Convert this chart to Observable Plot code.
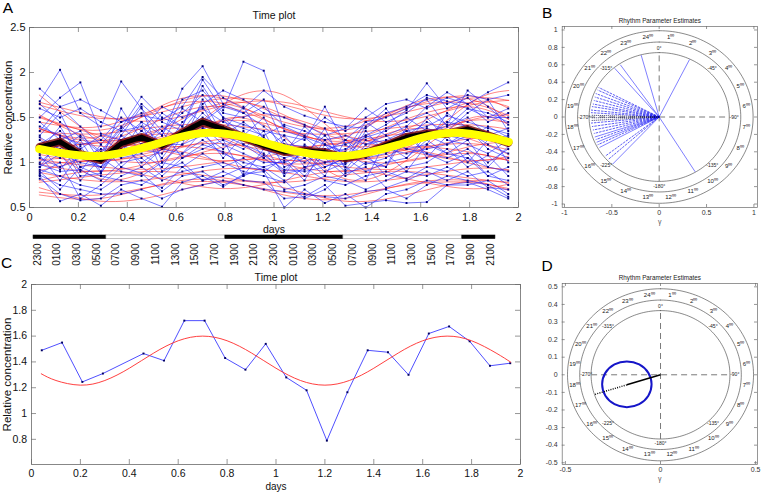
<!DOCTYPE html>
<html><head><meta charset="utf-8">
<script src="https://cdn.jsdelivr.net/npm/d3@7"></script>
<script src="https://cdn.jsdelivr.net/npm/@observablehq/plot@0.6"></script>
<style>
body{margin:0;background:#fff;}
#wrap{position:relative;width:761px;height:494px;overflow:hidden;background:#fff;}
.panel{position:absolute;}
.panel svg{overflow:visible;max-width:none;}
</style></head><body><div id="wrap"></div>
<script>
// ---------- DATA ----------
const days = [0.042,0.125,0.208,0.292,0.375,0.458,0.542,0.625,0.708,0.792,0.875,0.958,1.042,1.125,1.208,1.292,1.375,1.458,1.542,1.625,1.708,1.792,1.875,1.958];
const seriesA = [
 [1.82,1.62,1.70,1.58,1.45,1.52,1.48,1.62,1.95,1.72,1.60,1.80,1.62,1.52,1.45,1.40,1.38,1.55,1.62,1.75,1.68,1.60,1.55,1.45],
 [1.68,2.03,1.55,1.40,1.90,1.60,1.35,1.55,1.75,1.50,1.42,1.35,1.30,1.25,1.62,1.20,1.30,1.42,1.58,1.88,1.60,1.72,1.50,1.60],
 [1.50,1.72,1.89,1.32,1.25,1.45,1.30,1.82,2.07,1.65,1.55,1.40,1.20,1.18,1.12,1.25,1.45,1.30,1.40,1.62,1.78,1.65,1.78,1.89],
 [1.65,1.45,1.28,1.10,1.38,1.73,1.50,1.40,1.92,1.58,2.12,2.02,1.35,1.28,1.20,1.10,1.15,1.38,1.45,1.55,1.42,1.80,1.62,1.42],
 [1.40,1.30,1.20,1.25,1.50,1.35,1.62,1.50,1.60,1.45,1.38,1.30,1.42,1.35,1.25,1.30,1.20,1.25,1.35,1.40,1.52,1.45,1.38,1.32],
 [1.30,1.55,1.10,1.05,1.35,1.40,1.22,1.60,1.45,1.62,1.55,1.70,1.20,1.10,1.30,1.05,1.40,1.60,1.30,1.45,1.35,1.55,1.70,1.35],
 [1.25,1.10,1.00,0.95,1.20,1.30,1.05,1.35,1.50,1.40,1.25,1.15,1.05,1.12,1.00,0.98,1.15,1.20,1.35,1.28,1.45,1.40,1.25,1.20],
 [1.20,1.35,1.15,1.30,1.10,1.20,1.40,1.25,1.38,1.30,1.45,1.28,1.10,1.00,1.15,1.20,1.05,1.10,1.25,1.38,1.30,1.25,1.40,1.28],
 [1.15,1.05,1.25,0.90,1.30,1.15,1.10,1.45,1.62,1.25,1.15,1.35,0.95,1.05,1.38,0.92,1.20,1.30,1.15,1.20,1.55,1.38,1.15,1.05],
 [1.10,1.28,0.95,1.00,1.15,1.35,1.20,1.20,1.30,1.48,1.20,1.05,1.25,0.95,1.00,1.10,0.98,1.05,1.20,1.50,1.25,1.20,1.10,1.25],
 [1.05,0.95,1.05,1.15,1.05,1.10,0.95,1.30,1.40,1.20,1.10,1.00,1.00,1.10,0.90,1.00,1.25,1.15,1.10,1.15,1.20,1.30,1.35,1.00],
 [1.00,1.20,0.85,0.88,1.25,0.95,1.15,1.10,1.35,1.05,1.30,1.20,0.85,1.20,1.05,0.85,1.00,0.95,1.30,1.10,1.05,1.15,1.00,1.15],
 [0.98,0.90,0.92,0.80,1.00,1.05,0.85,1.05,1.20,1.12,0.95,1.08,0.92,0.90,0.95,1.05,0.90,1.00,1.05,1.25,1.10,1.05,0.95,0.90],
 [0.95,1.10,0.80,1.05,0.90,0.85,1.00,0.95,1.10,0.95,1.05,0.90,1.05,0.85,1.10,0.90,1.10,0.85,0.95,1.00,1.15,0.95,1.08,0.85],
 [0.92,0.85,0.75,0.70,0.85,0.95,0.80,0.90,0.95,1.00,0.90,0.85,0.78,0.95,0.80,0.75,0.85,0.90,0.82,0.95,0.90,1.05,0.85,0.80],
 [0.90,0.70,0.95,0.85,0.80,0.75,0.90,1.00,0.80,0.85,0.95,0.92,0.70,0.75,0.85,0.80,0.70,0.80,0.90,0.85,0.95,0.85,0.90,0.75],
 [0.88,1.00,0.60,0.75,0.95,0.88,0.68,0.85,0.90,0.75,0.85,0.95,0.80,0.60,0.70,0.88,0.95,0.72,0.80,0.90,0.80,0.90,0.72,0.70],
 [0.85,0.57,0.65,0.52,0.70,0.60,0.51,0.78,0.85,0.73,0.87,0.90,0.50,0.70,0.55,0.65,0.50,0.65,0.70,0.80,0.75,0.78,0.70,0.60],
 [0.82,0.65,0.58,0.60,0.75,0.80,0.72,0.95,0.80,0.90,0.80,0.78,0.60,0.62,0.75,0.52,0.55,0.58,0.55,0.56,0.75,0.75,0.80,0.65],
 [1.35,1.62,1.40,1.20,1.45,1.55,1.30,1.70,1.80,1.55,1.50,1.62,1.40,1.30,1.50,1.35,1.50,1.65,1.70,1.60,1.72,1.65,1.45,1.55],
 [1.28,1.15,1.30,1.12,1.40,1.20,1.25,1.30,1.55,1.35,1.62,1.25,1.15,1.28,1.10,1.15,1.28,1.35,1.50,1.35,1.40,1.50,1.30,1.38],
 [1.12,1.40,1.05,0.95,1.30,1.62,1.00,1.20,1.70,1.30,1.20,1.10,0.90,1.15,0.95,1.05,1.30,1.20,1.05,1.30,1.20,1.35,1.20,1.10],
 [1.45,1.25,1.35,1.00,1.60,1.25,1.55,1.40,1.85,1.50,1.30,1.50,1.10,1.40,1.20,1.12,1.45,1.50,1.60,1.70,1.40,1.60,1.50,1.50],
 [1.08,0.80,1.10,0.95,1.10,1.45,0.90,1.10,1.25,1.10,1.00,0.95,1.02,0.80,1.20,0.95,0.80,1.25,1.15,1.10,1.00,1.10,0.85,0.95],
 [1.60,1.50,1.60,1.45,1.35,1.65,1.45,1.35,1.65,1.80,1.70,1.55,1.50,1.42,1.30,1.38,1.60,1.45,1.55,1.72,1.65,1.75,1.70,1.75],
 [0.95,1.25,0.90,1.20,0.95,1.15,1.35,1.05,1.15,1.25,0.85,1.15,1.30,1.05,0.85,1.25,1.05,0.95,1.40,1.05,1.30,1.00,1.25,1.30],
 [1.18,0.92,1.18,0.88,1.20,1.00,1.15,1.25,1.30,1.15,1.35,1.05,0.88,0.92,1.25,1.00,1.35,1.10,0.90,1.20,1.10,1.25,0.95,1.18],
 [0.86,0.75,0.70,0.65,0.65,0.70,0.60,0.70,0.75,0.80,0.75,0.70,0.68,0.65,0.62,0.60,0.68,0.70,0.60,0.75,0.85,0.80,0.75,0.62]
];
const fitDays = [0.04,0.29,0.54,0.79,1.04,1.29,1.54,1.79,1.96];
const fitsA = [
 [1.64,1.49,1.56,1.71,1.64,1.49,1.56,1.71,1.69],
 [1.50,1.36,1.60,1.74,1.50,1.36,1.60,1.74,1.60],
 [1.37,1.29,1.63,1.71,1.37,1.29,1.63,1.71,1.48],
 [1.53,1.25,1.37,1.66,1.53,1.25,1.37,1.66,1.62],
 [1.34,1.32,1.40,1.42,1.34,1.32,1.40,1.42,1.37],
 [1.51,1.30,1.25,1.46,1.51,1.30,1.25,1.46,1.53],
 [1.17,1.07,1.25,1.36,1.17,1.07,1.25,1.36,1.25],
 [1.18,1.22,1.32,1.28,1.18,1.22,1.32,1.28,1.20],
 [1.13,1.08,1.29,1.34,1.13,1.08,1.29,1.34,1.20],
 [1.19,1.04,1.11,1.26,1.19,1.04,1.11,1.26,1.24],
 [1.09,1.01,1.14,1.21,1.09,1.01,1.14,1.21,1.14],
 [0.99,1.04,1.17,1.12,0.99,1.04,1.17,1.12,1.02],
 [0.98,0.90,1.02,1.10,0.98,0.90,1.02,1.10,1.02],
 [1.03,0.95,0.93,1.01,1.03,0.95,0.93,1.01,1.04],
 [0.89,0.79,0.83,0.93,0.89,0.79,0.83,0.93,0.92],
 [0.78,0.86,0.90,0.83,0.78,0.86,0.90,0.83,0.78],
 [0.80,0.91,0.82,0.71,0.80,0.91,0.82,0.71,0.76],
 [0.72,0.57,0.64,0.79,0.72,0.57,0.64,0.79,0.77],
 [0.64,0.60,0.76,0.80,0.64,0.60,0.76,0.80,0.69],
 [1.45,1.40,1.61,1.66,1.45,1.40,1.61,1.66,1.52],
 [1.38,1.18,1.27,1.46,1.38,1.18,1.27,1.46,1.44],
 [1.03,1.13,1.37,1.27,1.03,1.13,1.37,1.27,1.09],
 [1.38,1.24,1.48,1.62,1.38,1.24,1.48,1.62,1.48],
 [0.91,1.06,1.15,1.00,0.91,1.06,1.15,1.00,0.91],
 [1.67,1.51,1.47,1.63,1.67,1.51,1.47,1.63,1.69],
 [1.11,1.22,1.13,1.02,1.11,1.22,1.13,1.02,1.07],
 [1.21,1.05,1.01,1.17,1.21,1.05,1.01,1.17,1.23],
 [0.67,0.64,0.75,0.78,0.67,0.64,0.75,0.78,0.71],
 [1.28,0.82,1.02,1.48,1.28,0.82,1.02,1.48,1.42],
 [1.75,1.26,1.16,1.64,1.75,1.26,1.16,1.64,1.80]
];
const meanA = [1.17,1.23,1.09,1.03,1.21,1.28,1.19,1.33,1.45,1.37,1.28,1.19,1.12,1.13,1.11,1.05,1.10,1.19,1.28,1.32,1.32,1.37,1.30,1.22];
const popFitDays = [0.04,0.1,0.2,0.3,0.4,0.5,0.6,0.7,0.8,0.9,1.0,1.1,1.2,1.3,1.4,1.5,1.6,1.7,1.8,1.9,1.96];
const popFitA = [1.15,1.12,1.08,1.075,1.12,1.19,1.27,1.325,1.32,1.27,1.19,1.12,1.08,1.075,1.12,1.19,1.27,1.325,1.32,1.27,1.23];
const xTicks = [0,0.2,0.4,0.6,0.8,1,1.2,1.4,1.6,1.8,2];
const yTicksA = [0.5,1,1.5,2,2.5];
const yTicksC = [0.8,1,1.2,1.4,1.6,1.8,2];

const cDays = [0.042,0.125,0.208,0.292,0.458,0.542,0.625,0.708,0.792,0.875,0.958,1.042,1.125,1.208,1.292,1.375,1.458,1.542,1.625,1.708,1.792,1.875,1.958];
const cValues = [1.49,1.55,1.245,1.31,1.465,1.41,1.72,1.72,1.43,1.34,1.54,1.28,1.18,0.79,1.165,1.49,1.475,1.30,1.62,1.675,1.56,1.37,1.39];
const cFitDays = [0.04,0.1,0.2,0.3,0.4,0.5,0.6,0.7,0.8,0.9,1.0,1.1,1.2,1.3,1.4,1.5,1.6,1.7,1.8,1.9,1.96];
const cFitValues = [1.308,1.256,1.22,1.256,1.351,1.469,1.564,1.60,1.564,1.469,1.351,1.256,1.22,1.256,1.351,1.469,1.564,1.60,1.564,1.469,1.398];

const clockLabels = ["2300","0100","0300","0500","0700","0900","1100","1300","1500","1700","1900","2100","2300","0100","0300","0500","0700","0900","1100","1300","1500","1700","1900","2100"];
const lightStart = [-0.2,3.5,9.54,15.53,21.57];
const lightEnd = [3.5,9.54,15.53,21.57,23.25];
const lightDark = [true,false,true,false,true];

const ringScale = [1,1.164,1.34];
const hourLabels = ["1⁰⁰","2⁰⁰","3⁰⁰","4⁰⁰","5⁰⁰","6⁰⁰","7⁰⁰","8⁰⁰","9⁰⁰","10⁰⁰","11⁰⁰","12⁰⁰","13⁰⁰","14⁰⁰","15⁰⁰","16⁰⁰","17⁰⁰","18⁰⁰","19⁰⁰","20⁰⁰","21⁰⁰","22⁰⁰","23⁰⁰","24⁰⁰"];
const degreeLabels = ["0°","-45°","-90°","-135°","-180°","-225°","-270°","-315°"];

const bEndX = [-0.19,0.32,-0.47,-0.41,0.38,-0.57,-0.54,-0.49,-0.64,-0.65,-0.67,-0.68,-0.69,-0.70,-0.71,-0.72,-0.72,-0.72,-0.72,-0.72,-0.72,-0.71,-0.70,-0.69,-0.68,-0.67,-0.66,-0.65,-0.63];
const bEndY = [0.71,0.66,0.56,0.60,-0.63,-0.45,-0.49,-0.54,0.34,0.31,0.27,0.23,0.19,0.15,0.12,0.08,0.05,0.02,-0.01,-0.04,-0.07,-0.11,-0.15,-0.19,-0.23,-0.26,-0.29,-0.32,-0.35];
const bStyle = ["solid","solid","solid","solid","solid","dash","dash","solid","dash","dash","dash","dash","dash","dash","dash","dash","dash","dot","dot","dot","dash","dash","dash","dash","solid","dash","solid","dash","solid"];
const xTicksB = [-1,-0.5,0,0.5,1];
const yTicksB = [1,0.8,0.6,0.4,0.2,0,-0.2,-0.4,-0.6,-0.8,-1];

const dEllipseX = [-0.047,-0.064,-0.112,-0.177,-0.242,-0.290,-0.307,-0.290,-0.242,-0.177,-0.112,-0.064];
const dEllipseY = [-0.054,0.011,0.059,0.076,0.059,0.011,-0.054,-0.119,-0.167,-0.184,-0.167,-0.119];
const dVectorX = [0,-0.177,-0.35];
const dVectorY = [0,-0.057,-0.113];
const xTicksD = [-0.5,0,0.5];
const yTicksD = [0.5,0.4,0.3,0.2,0.1,0,-0.1,-0.2,-0.3,-0.4,-0.5];

// ---------- HELPERS ----------
const FONT = '"Liberation Sans", Arial, Helvetica, sans-serif';
const FRAME = "#6a6a6a";
const fmt = d => String(+d.toFixed(2));
const wrap = document.getElementById("wrap");
function place(svg, left, top, w) {
  const div = document.createElement("div");
  div.className = "panel";
  div.style.left = left + "px"; div.style.top = top + "px"; div.style.width = w + "px";
  div.appendChild(svg); wrap.appendChild(div);
}
function inward(xt, yt, fw, fh, len, color) {
  const o = {stroke: color, strokeWidth: 0.7};
  return [
    Plot.ruleX(xt, {x: d => d, insetTop: fh - len, ...o}),
    Plot.ruleX(xt, {x: d => d, insetBottom: fh - len, ...o}),
    Plot.ruleY(yt, {y: d => d, insetRight: fw - len, ...o}),
    Plot.ruleY(yt, {y: d => d, insetLeft: fw - len, ...o})
  ];
}
// centred text helper (explicit anchors)
function label(str, opts) {
  return Plot.text([str], {text: d => d, textAnchor: "middle", lineAnchor: "middle", fill: "#111", ...opts});
}

// ---------- PANEL A ----------
const blueA = seriesA.flatMap((row, i) => row.map((v, j) => ({id: i, x: days[j], y: v})));
const redA = fitsA.flatMap((row, i) => row.map((v, j) => ({id: i, x: fitDays[j], y: v})));
const meanData = meanA.map((v, j) => ({x: days[j], y: v}));
const popData = popFitA.map((v, j) => ({x: popFitDays[j], y: v}));
{
  const W = 530, H = 240, ml = 29, mr = 12, mt = 27, mb = 33;
  const svg = Plot.plot({
    width: W, height: H, marginLeft: ml, marginRight: mr, marginTop: mt, marginBottom: mb,
    x: {domain: [0, 2], axis: null}, y: {domain: [0.5, 2.5], axis: null},
    style: {background: "transparent", fontFamily: FONT, overflow: "visible"},
    marks: [
      Plot.line(redA, {x: "x", y: "y", z: "id", stroke: "#ff2020", strokeWidth: 0.55, curve: "natural"}),
      Plot.line(blueA, {x: "x", y: "y", z: "id", stroke: "#2525ff", strokeWidth: 0.6}),
      Plot.dot(blueA, {x: "x", y: "y", symbol: "square", r: 1.1, fill: "#000080", stroke: null}),
      Plot.line(meanData, {x: "x", y: "y", stroke: "#7a0000", strokeWidth: 8.5, strokeOpacity: 0.8, strokeLinejoin: "round"}),
      Plot.line(meanData, {x: "x", y: "y", stroke: "#000", strokeWidth: 5, strokeLinejoin: "round"}),
      Plot.line(popData, {x: "x", y: "y", stroke: "#ffff00", strokeWidth: 8, curve: "natural"}),
      Plot.frame({stroke: FRAME, strokeWidth: 0.8}),
      ...inward(xTicks, yTicksA, W - ml - mr, H - mt - mb, 5, FRAME),
      Plot.text(xTicks, {x: d => d, frameAnchor: "bottom", dy: 10, text: fmt, textAnchor: "middle", lineAnchor: "middle", fontSize: 11, fill: "#111"}),
      Plot.text(yTicksA, {y: d => d, frameAnchor: "left", dx: -4, textAnchor: "end", lineAnchor: "middle", text: fmt, fontSize: 11, fill: "#111"}),
      label("days", {frameAnchor: "bottom", dy: 22, fontSize: 10.5}),
      label("Time plot", {frameAnchor: "top", dy: -12, fontSize: 10.5}),
      label("Relative concentration", {frameAnchor: "left", dx: -21, rotate: -90, fontSize: 11.5}),
      label("A", {frameAnchor: "top-left", dx: -21.5, dy: -19, fontSize: 15.5, fill: "#000"})
    ]
  });
  place(svg, 0, 0, W);
}

// ---------- CLOCK STRIP ----------
{
  const bars = lightStart.map((s, i) => ({s, e: lightEnd[i], c: lightDark[i] ? "#000" : "#fff", k: lightDark[i] ? "#000" : "#999"}));
  const labs = clockLabels.map((l, i) => ({i, l}));
  const svg = Plot.plot({
    width: 530, height: 50, marginLeft: 37, marginRight: 40, marginTop: 7, marginBottom: 39.5,
    x: {domain: [0, 23], axis: null}, color: {type: "identity"},
    style: {background: "transparent", fontFamily: FONT, overflow: "visible"},
    marks: [
      Plot.rect(bars, {x1: "s", x2: "e", fill: "c", stroke: "k", strokeWidth: 0.6}),
      Plot.text(labs, {x: "i", text: "l", frameAnchor: "bottom", dy: 4.5, rotate: -90, textAnchor: "end", lineAnchor: "middle", fontSize: 10, fill: "#111"})
    ]
  });
  place(svg, 0, 228, 530);
}

// ---------- PANEL C ----------
{
  const W = 530, H = 244, ml = 31, mr = 10, mt = 34, mb = 30;
  const cData = cValues.map((v, j) => ({x: cDays[j], y: v}));
  const cFit = cFitValues.map((v, j) => ({x: cFitDays[j], y: v}));
  const svg = Plot.plot({
    width: W, height: H, marginLeft: ml, marginRight: mr, marginTop: mt, marginBottom: mb,
    x: {domain: [0, 2], axis: null}, y: {domain: [0.605, 2], axis: null},
    style: {background: "transparent", fontFamily: FONT, overflow: "visible"},
    marks: [
      Plot.line(cData, {x: "x", y: "y", stroke: "#3b3bff", strokeWidth: 0.9}),
      Plot.dot(cData, {x: "x", y: "y", symbol: "square", r: 1.1, fill: "#000060", stroke: null}),
      Plot.line(cFit, {x: "x", y: "y", stroke: "#ff2a2a", strokeWidth: 0.9, curve: "natural"}),
      Plot.frame({stroke: FRAME, strokeWidth: 0.8}),
      ...inward(xTicks, yTicksC, W - ml - mr, H - mt - mb, 5, FRAME),
      Plot.text(xTicks, {x: d => d, frameAnchor: "bottom", dy: 9.5, text: fmt, textAnchor: "middle", lineAnchor: "middle", fontSize: 10.5, fill: "#111"}),
      Plot.text(yTicksC, {y: d => d, frameAnchor: "left", dx: -4.5, textAnchor: "end", lineAnchor: "middle", text: fmt, fontSize: 10.5, fill: "#111"}),
      label("days", {frameAnchor: "bottom", dy: 22.7, fontSize: 10}),
      label("Time plot", {frameAnchor: "top", dy: -6.5, fontSize: 10.5}),
      label("Relative concentration", {frameAnchor: "left", dx: -24, rotate: -90, fontSize: 11.5}),
      label("C", {frameAnchor: "top-left", dx: -25, dy: -21, fontSize: 15.5, fill: "#000"})
    ]
  });
  place(svg, 0, 250, W);
}

// ---------- POLAR PANELS ----------
function polar({top, xDomain, yDomain, xt, yt, rInner, letter, letterDy, extra}) {
  const W = 231, H = 230, ml = 31.7, mr = 4, mt = 26, mb = 23;
  const rad = Math.PI / 180;
  const circles = ringScale.flatMap((k, i) => d3.range(0, 362, 2).map(a => ({ring: i, x: rInner * k * Math.sin(a * rad), y: rInner * k * Math.cos(a * rad)})));
  const hours = hourLabels.map((t, i) => { const a = (i + 0.5) * 15 * rad, R = rInner * 1.25; return {t, x: R * Math.sin(a), y: R * Math.cos(a)}; });
  const degs = degreeLabels.map((t, i) => { const a = i * 45 * rad, R = rInner * 1.07; return {t, x: R * Math.sin(a), y: R * Math.cos(a)}; });
  const axes = [{x1: 0, y1: -rInner, x2: 0, y2: rInner}, {x1: -rInner, y1: 0, x2: rInner, y2: 0}];
  const svg = Plot.plot({
    width: W, height: H, marginLeft: ml, marginRight: mr, marginTop: mt, marginBottom: mb,
    x: {domain: xDomain, axis: null}, y: {domain: yDomain, axis: null},
    style: {background: "transparent", fontFamily: FONT, overflow: "visible"},
    marks: [
      Plot.line(circles, {x: "x", y: "y", z: "ring", stroke: "#3a3a3a", strokeWidth: 0.6}),
      Plot.link(axes, {x1: "x1", y1: "y1", x2: "x2", y2: "y2", stroke: "#7a7a7a", strokeWidth: 1, strokeDasharray: "6,4"}),
      Plot.text(hours, {x: "x", y: "y", text: "t", fontSize: 6, fill: "#222"}),
      Plot.text(degs, {x: "x", y: "y", text: "t", fontSize: 5, fill: "#222"}),
      ...extra,
      Plot.frame({stroke: FRAME, strokeWidth: 0.7}),
      ...inward(xt, yt, W - ml - mr, H - mt - mb, 3, FRAME),
      Plot.text(xt, {x: d => d, frameAnchor: "bottom", dy: 5.5, text: fmt, textAnchor: "middle", lineAnchor: "middle", fontSize: 7, fill: "#333"}),
      Plot.text(yt, {y: d => d, frameAnchor: "left", dx: -4.5, textAnchor: "end", lineAnchor: "middle", text: fmt, fontSize: 7, fill: "#333"}),
      label("γ", {frameAnchor: "bottom", dy: 14, fontSize: 7, fill: "#555"}),
      label("Rhythm Parameter Estimates", {frameAnchor: "top", dy: -6, fontSize: 6.3, fill: "#222"}),
      label(letter, {frameAnchor: "top-left", dx: -15, dy: letterDy, fontSize: 15.5, fill: "#000"})
    ]
  });
  place(svg, 530, top, W);
}

const bLines = bEndX.map((x, i) => ({x1: 0, y1: 0, x2: x, y2: bEndY[i], s: bStyle[i]}));
polar({
  top: 0, xDomain: [-1.024, 1.038], yDomain: [-1.04, 1.04], xt: xTicksB, yt: yTicksB, rInner: 0.74, letter: "B", letterDy: -13.5,
  extra: [
    Plot.link(bLines.filter(d => d.s === "solid"), {x1: "x1", y1: "y1", x2: "x2", y2: "y2", stroke: "#2a2aff", strokeWidth: 0.6}),
    Plot.link(bLines.filter(d => d.s === "dash"), {x1: "x1", y1: "y1", x2: "x2", y2: "y2", stroke: "#1a1aee", strokeWidth: 0.7, strokeDasharray: "2.5,1"}),
    Plot.link(bLines.filter(d => d.s === "dot"), {x1: "x1", y1: "y1", x2: "x2", y2: "y2", stroke: "#000040", strokeWidth: 0.8, strokeDasharray: "1,1"})
  ]
});

const dEllipse = dEllipseX.map((x, i) => ({x, y: dEllipseY[i]}));
const dSolid = [{x1: dVectorX[0], y1: dVectorY[0], x2: dVectorX[1], y2: dVectorY[1]}];
const dDotted = [{x1: dVectorX[1], y1: dVectorY[1], x2: dVectorX[2], y2: dVectorY[2]}];
polar({
  top: 257, xDomain: [-0.517, 0.51], yDomain: [-0.51, 0.519], xt: xTicksD, yt: yTicksD, rInner: 0.365, letter: "D", letterDy: -17.5,
  extra: [
    Plot.line(dEllipse, {x: "x", y: "y", stroke: "#1515c8", strokeWidth: 2, curve: "catmull-rom-closed"}),
    Plot.link(dSolid, {x1: "x1", y1: "y1", x2: "x2", y2: "y2", stroke: "#000", strokeWidth: 1.6}),
    Plot.link(dDotted, {x1: "x1", y1: "y1", x2: "x2", y2: "y2", stroke: "#000", strokeWidth: 1.4, strokeDasharray: "1,1.3"})
  ]
});
</script></body></html>
